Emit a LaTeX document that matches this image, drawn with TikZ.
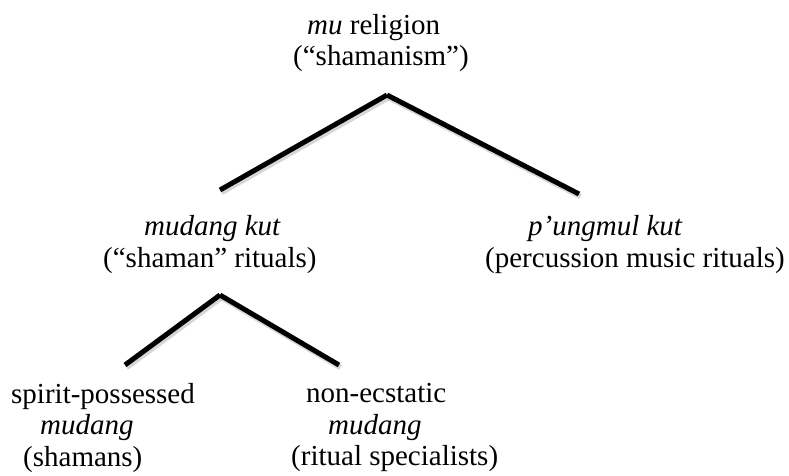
\documentclass[tikz,border=0pt]{standalone}
\usepackage{fontspec}
\setmainfont{Liberation Serif}
\begin{document}
\begin{tikzpicture}[x=1pt,y=-1pt,
  lbl/.style={align=left,anchor=west,inner sep=0pt,font=\fontsize{29}{#1}\selectfont},
  lbl/.default=31.5,
  branch/.style={line width=5pt,
    preaction={draw=black!35,line width=5.5pt,opacity=0.45,
      transform canvas={shift={(1.5pt,-2.5pt)}}}}]
\useasboundingbox (0,0) rectangle (789,475);
\fill[white] (0,0) rectangle (789,475);
\node[lbl=31] (top) at (293,42.7) {\hspace*{14pt}\textit{mu} religion\\(``shamanism'')};
\node[lbl=32] (ml) at (103,244.2) {\hspace*{41pt}\textit{mudang kut}\\(``shaman'' rituals)};
\node[lbl=32] (mr) at (485,244.2) {\hspace*{43pt}\textit{p'ungmul kut}\\(percussion music rituals)};
\node[lbl=31.5] (bl) at (11,427.7) {spirit-possessed\\\hspace*{29pt}\textit{mudang}\\\hspace*{12pt}(shamans)};
\node[lbl=31.5] (br) at (291,427.7) {\hspace*{15pt}non-ecstatic\\\hspace*{37pt}\textit{mudang}\\(ritual specialists)};
\coordinate (a1) at (387,95);
\coordinate (a1l) at (220,190);
\coordinate (a1r) at (579,194);
\coordinate (a2) at (220,295);
\coordinate (a2l) at (125,365);
\coordinate (a2r) at (339,365);
\draw[branch] (a1l) -- (a1);
\draw[branch] (a1) -- (a1r);
\draw[branch] (a2l) -- (a2);
\draw[branch] (a2) -- (a2r);
\end{tikzpicture}
\end{document}
